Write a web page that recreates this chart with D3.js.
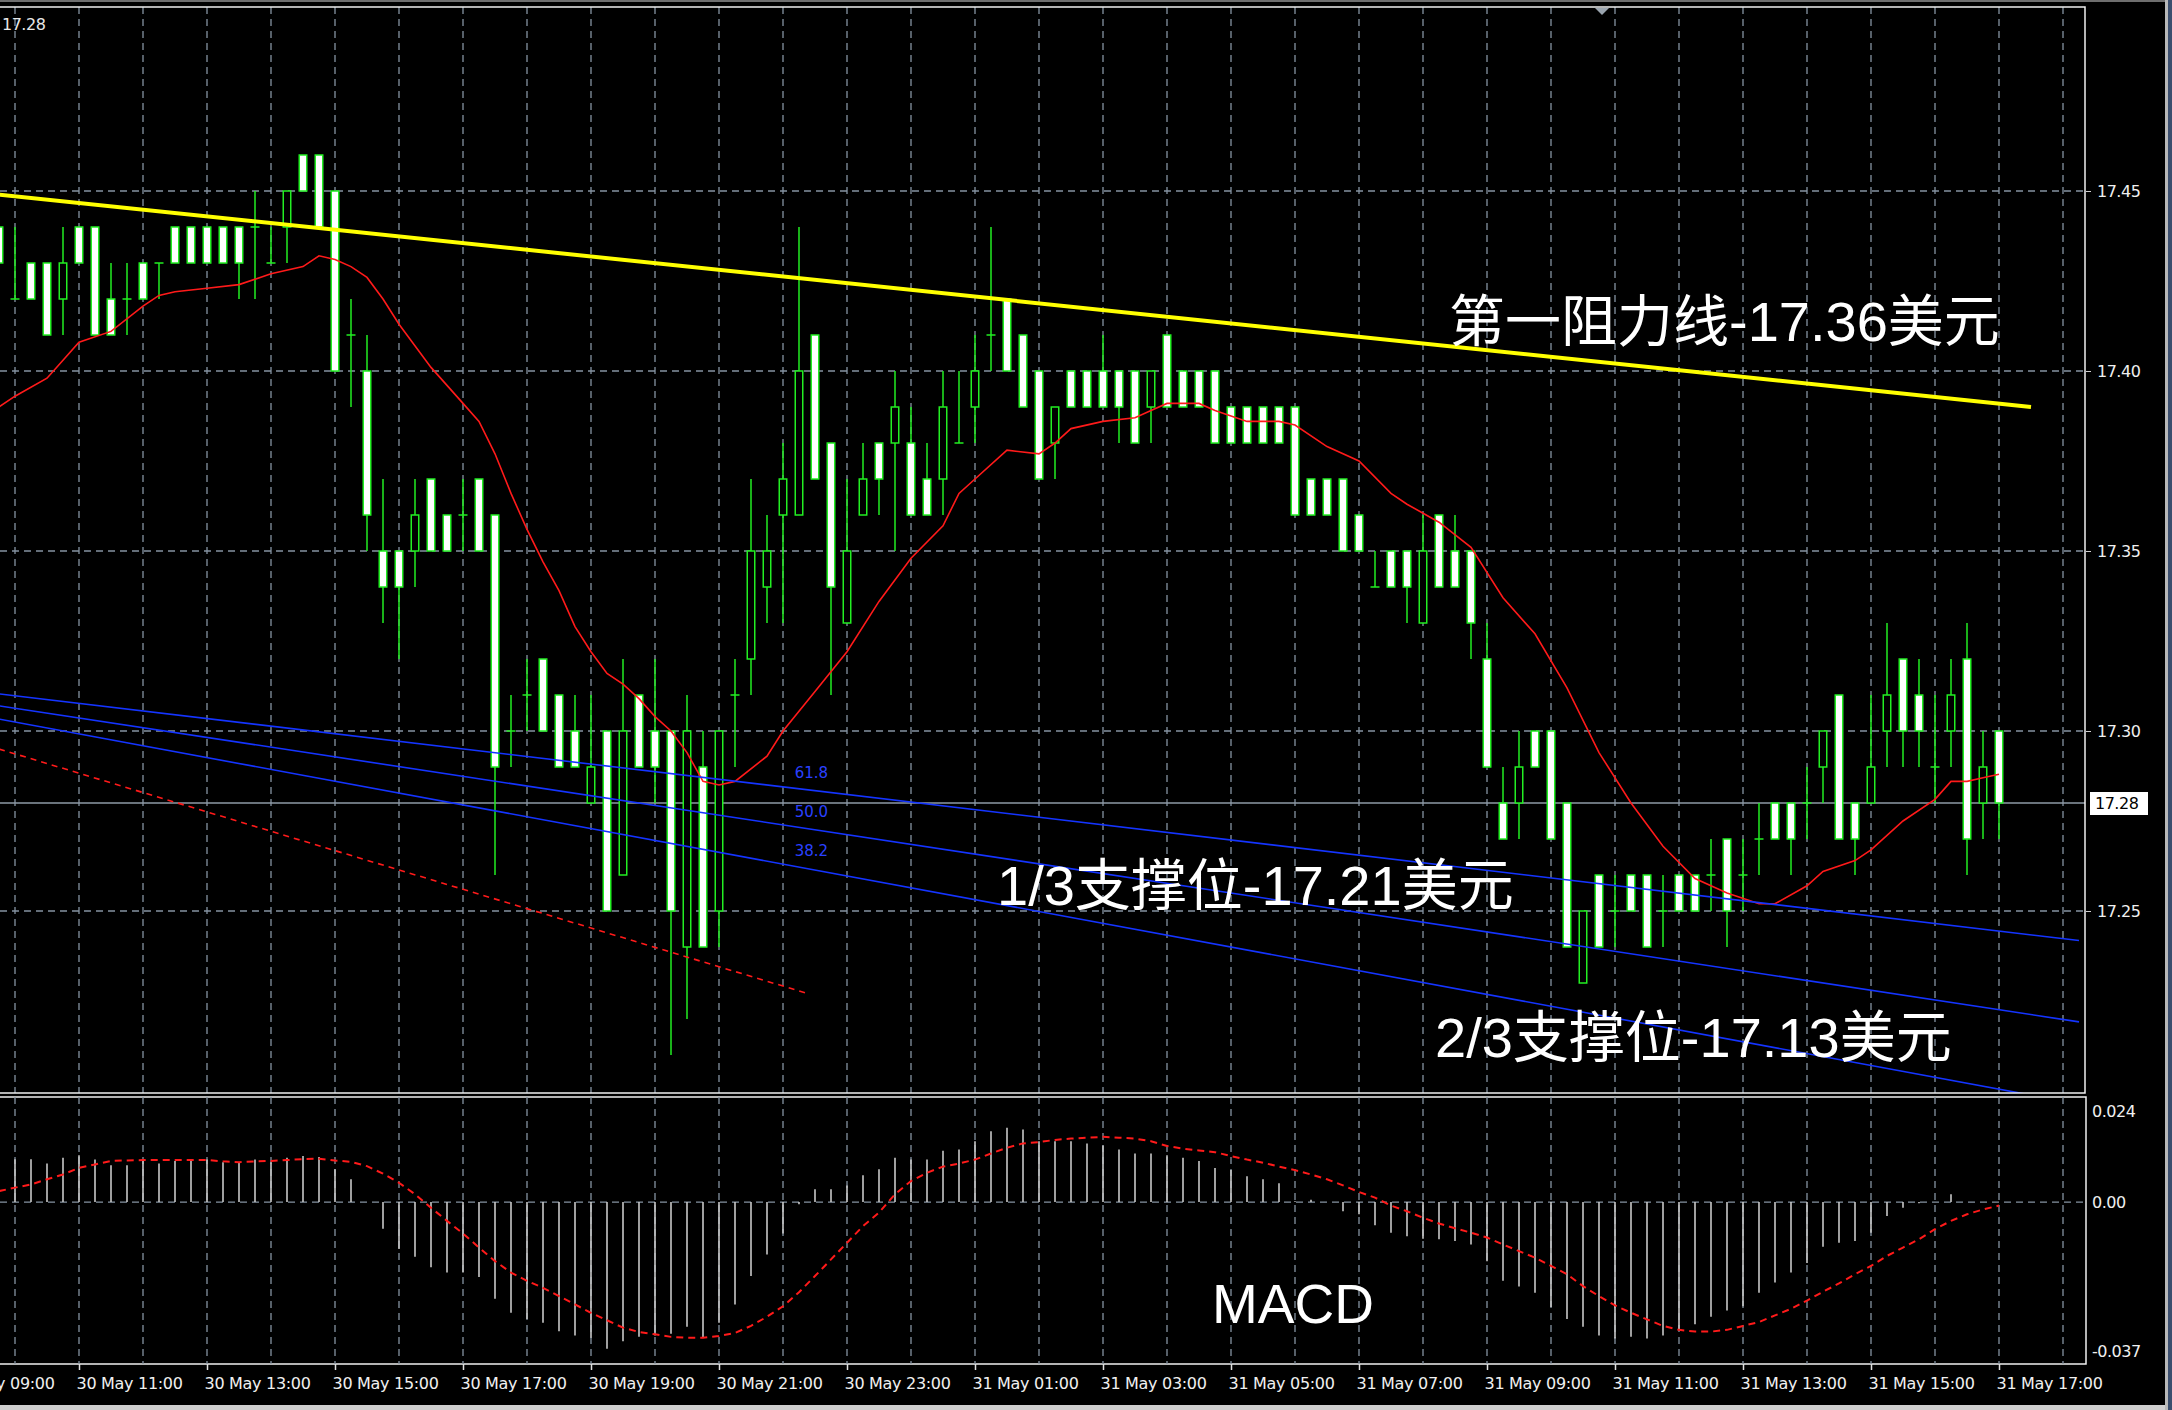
<!DOCTYPE html>
<html>
<head>
<meta charset="utf-8">
<script src="https://cdn.jsdelivr.net/npm/d3@7"></script>
<style>
  html, body { margin: 0; padding: 0; background: #000; overflow: hidden; }
  svg { display: block; }
</style>
</head>
<body>
<svg id="chart" width="2172" height="1410"></svg>
<script>
// ---- M15 bars, 30 May 09:45 -> 31 May 17:00 ----
const day30Times = ["09:45","10:00","10:15","10:30","10:45","11:00","11:15","11:30","11:45",
  "12:00","12:15","12:30","12:45","13:00","13:15","13:30","13:45","14:00","14:15","14:30","14:45",
  "15:00","15:15","15:30","15:45","16:00","16:15","16:30","16:45","17:00","17:15","17:30","17:45",
  "18:00","18:15","18:30","18:45","19:00","19:15","19:30","19:45","20:00","20:15","20:30","20:45",
  "21:00","21:15","21:30","21:45","22:00","22:15","22:30","22:45","23:00","23:15","23:30","23:45"];
const day31Times = ["00:00","00:15","00:30","00:45","01:00","01:15","01:30","01:45",
  "02:00","02:15","02:30","02:45","03:00","03:15","03:30","03:45","04:00","04:15","04:30","04:45",
  "05:00","05:15","05:30","05:45","06:00","06:15","06:30","06:45","07:00","07:15","07:30","07:45",
  "08:00","08:15","08:30","08:45","09:00","09:15","09:30","09:45","10:00","10:15","10:30","10:45",
  "11:00","11:15","11:30","11:45","12:00","12:15","12:30","12:45","13:00","13:15","13:30","13:45",
  "14:00","14:15","14:30","14:45","15:00","15:15","15:30","15:45","16:00","16:15","16:30","16:45","17:00"];

const openPrices = [
  17.44,17.42,17.43,17.43,17.42,17.44,17.44,17.42,17.42,17.43,
  17.43,17.44,17.44,17.44,17.44,17.44,17.44,17.43,17.44,17.46,
  17.46,17.45,17.41,17.40,17.35,17.35,17.35,17.37,17.36,17.36,
  17.37,17.36,17.30,17.31,17.32,17.31,17.30,17.28,17.30,17.26,
  17.31,17.30,17.30,17.24,17.29,17.25,17.31,17.32,17.34,17.36,
  17.36,17.41,17.38,17.33,17.36,17.38,17.38,17.38,17.37,17.37,
  17.38,17.39,17.41,17.42,17.41,17.40,17.38,17.40,17.40,17.40,
  17.40,17.40,17.39,17.41,17.40,17.40,17.40,17.39,17.39,17.39,
  17.39,17.39,17.37,17.37,17.37,17.36,17.34,17.35,17.35,17.33,
  17.36,17.35,17.35,17.32,17.28,17.28,17.30,17.30,17.28,17.23,
  17.26,17.25,17.26,17.26,17.25,17.26,17.26,17.26,17.27,17.26,
  17.27,17.28,17.28,17.28,17.29,17.31,17.28,17.28,17.30,17.32,
  17.31,17.29,17.30,17.32,17.28,17.30];
const highPrices = [
  17.44,17.44,17.43,17.43,17.44,17.44,17.44,17.43,17.43,17.43,
  17.43,17.44,17.44,17.44,17.44,17.44,17.45,17.44,17.45,17.46,
  17.46,17.45,17.42,17.41,17.37,17.35,17.37,17.37,17.36,17.37,
  17.37,17.36,17.31,17.32,17.32,17.31,17.31,17.31,17.30,17.32,
  17.31,17.32,17.30,17.31,17.30,17.30,17.32,17.37,17.36,17.38,
  17.44,17.41,17.38,17.37,17.38,17.38,17.40,17.39,17.38,17.40,
  17.40,17.41,17.44,17.42,17.41,17.40,17.39,17.40,17.40,17.41,
  17.40,17.40,17.40,17.41,17.40,17.40,17.40,17.39,17.39,17.39,
  17.39,17.39,17.37,17.37,17.37,17.36,17.35,17.35,17.35,17.36,
  17.36,17.36,17.35,17.33,17.29,17.30,17.30,17.30,17.28,17.25,
  17.26,17.26,17.26,17.26,17.26,17.26,17.26,17.27,17.27,17.27,
  17.28,17.28,17.28,17.29,17.30,17.31,17.28,17.31,17.33,17.32,
  17.32,17.31,17.32,17.33,17.30,17.30];
const lowPrices = [
  17.42,17.42,17.42,17.41,17.41,17.43,17.41,17.41,17.41,17.42,
  17.42,17.43,17.43,17.43,17.43,17.42,17.42,17.43,17.43,17.45,
  17.44,17.40,17.39,17.35,17.33,17.32,17.34,17.35,17.35,17.35,
  17.35,17.26,17.29,17.30,17.30,17.29,17.29,17.28,17.25,17.26,
  17.29,17.28,17.21,17.22,17.24,17.24,17.29,17.31,17.33,17.33,
  17.36,17.37,17.31,17.33,17.36,17.36,17.35,17.36,17.36,17.36,
  17.38,17.38,17.40,17.40,17.39,17.37,17.37,17.39,17.39,17.39,
  17.38,17.38,17.38,17.39,17.39,17.39,17.38,17.38,17.38,17.38,
  17.38,17.36,17.36,17.36,17.35,17.35,17.34,17.34,17.33,17.33,
  17.34,17.34,17.32,17.29,17.27,17.27,17.29,17.27,17.24,17.23,
  17.24,17.24,17.25,17.24,17.24,17.25,17.25,17.25,17.24,17.25,
  17.26,17.27,17.26,17.27,17.28,17.27,17.26,17.28,17.29,17.29,
  17.29,17.28,17.29,17.26,17.27,17.27];
const closePrices = [
  17.43,17.42,17.42,17.41,17.43,17.43,17.41,17.41,17.42,17.42,
  17.43,17.43,17.43,17.43,17.43,17.43,17.44,17.43,17.45,17.45,
  17.44,17.40,17.41,17.36,17.34,17.34,17.36,17.35,17.35,17.36,
  17.35,17.29,17.30,17.31,17.30,17.29,17.29,17.29,17.25,17.30,
  17.29,17.29,17.25,17.30,17.24,17.30,17.31,17.35,17.35,17.37,
  17.40,17.37,17.34,17.35,17.37,17.37,17.39,17.36,17.36,17.39,
  17.38,17.40,17.41,17.40,17.39,17.37,17.39,17.39,17.39,17.39,
  17.39,17.38,17.40,17.39,17.39,17.39,17.38,17.38,17.38,17.38,
  17.38,17.36,17.36,17.36,17.35,17.35,17.34,17.34,17.34,17.35,
  17.34,17.34,17.33,17.29,17.27,17.29,17.29,17.27,17.24,17.25,
  17.24,17.25,17.25,17.24,17.25,17.25,17.25,17.26,17.25,17.26,
  17.27,17.27,17.27,17.28,17.30,17.27,17.27,17.29,17.31,17.30,
  17.30,17.29,17.31,17.27,17.29,17.28];

// ---- moving average (red) ----
const maTimes = ["30 May 09:45","30 May 10:00","30 May 10:30","30 May 10:45","30 May 11:00","30 May 11:30",
  "30 May 12:00","30 May 12:15","30 May 12:30","30 May 13:00","30 May 13:30","30 May 14:00","30 May 14:30",
  "30 May 14:45","30 May 15:00","30 May 15:15","30 May 15:30","30 May 15:45","30 May 16:00","30 May 16:30",
  "30 May 17:00","30 May 17:15","30 May 17:30","30 May 17:45","30 May 18:00","30 May 18:15","30 May 18:30",
  "30 May 18:45","30 May 19:00","30 May 19:15","30 May 19:30","30 May 19:45","30 May 20:00","30 May 20:15",
  "30 May 20:30","30 May 20:45","30 May 21:00","30 May 21:15","30 May 21:45","30 May 22:00","30 May 22:30",
  "30 May 23:00","30 May 23:30","31 May 00:00","31 May 00:30","31 May 00:45","31 May 01:00","31 May 01:30",
  "31 May 02:00","31 May 02:15","31 May 02:30","31 May 03:00","31 May 03:30","31 May 03:45","31 May 04:00",
  "31 May 04:30","31 May 04:45","31 May 05:15","31 May 05:45","31 May 06:00","31 May 06:30","31 May 07:00",
  "31 May 07:30","31 May 07:45","31 May 08:15","31 May 08:45","31 May 09:15","31 May 09:45","31 May 10:15",
  "31 May 10:45","31 May 11:15","31 May 11:45","31 May 12:15","31 May 12:45","31 May 13:15","31 May 13:30",
  "31 May 14:00","31 May 14:15","31 May 14:45","31 May 15:00","31 May 15:30","31 May 16:00","31 May 16:15",
  "31 May 16:30","31 May 16:45","31 May 17:00"];
const maValues = [17.390,17.393,17.398,17.403,17.408,17.411,
  17.418,17.421,17.422,17.423,17.424,17.427,17.429,
  17.432,17.431,17.429,17.426,17.420,17.413,17.401,
  17.391,17.386,17.377,17.366,17.356,17.347,17.339,
  17.329,17.322,17.316,17.313,17.309,17.304,17.300,
  17.294,17.286,17.285,17.286,17.293,17.300,17.311,
  17.322,17.336,17.348,17.357,17.366,17.370,17.378,
  17.377,17.380,17.384,17.386,17.387,17.389,17.391,
  17.391,17.389,17.386,17.386,17.385,17.379,17.375,
  17.366,17.363,17.358,17.351,17.337,17.327,17.312,
  17.294,17.280,17.268,17.259,17.255,17.252,17.252,
  17.257,17.261,17.264,17.267,17.275,17.281,17.286,
  17.286,17.287,17.288];

// ---- MACD histogram and signal, one value per bar ----
const macdHist = [
  0.0086,0.0098,0.0098,0.0088,0.0101,0.0107,0.0097,0.0084,0.0084,0.0096,
  0.0088,0.0094,0.0094,0.0097,0.0091,0.0090,0.0097,0.0091,0.0101,0.0105,
  0.0103,0.0075,0.0052,0.0000,-0.0061,-0.0107,-0.0125,-0.0149,-0.0161,-0.0161,
  -0.0171,-0.0221,-0.0253,-0.0267,-0.0276,-0.0295,-0.0305,-0.0310,-0.0335,-0.0318,
  -0.0308,-0.0305,-0.0301,-0.0285,-0.0310,-0.0276,-0.0234,-0.0169,-0.0120,-0.0072,
  -0.0005,0.0029,0.0029,0.0038,0.0061,0.0075,0.0101,0.0097,0.0097,0.0117,
  0.0120,0.0139,0.0162,0.0170,0.0166,0.0139,0.0139,0.0139,0.0134,0.0129,
  0.0120,0.0111,0.0111,0.0107,0.0101,0.0094,0.0078,0.0073,0.0059,0.0052,
  0.0043,0.0002,0.0005,0.0000,-0.0021,-0.0028,-0.0053,-0.0070,-0.0078,-0.0084,
  -0.0085,-0.0089,-0.0097,-0.0135,-0.0180,-0.0193,-0.0207,-0.0240,-0.0267,-0.0285,
  -0.0305,-0.0312,-0.0308,-0.0312,-0.0305,-0.0292,-0.0279,-0.0262,-0.0248,-0.0238,
  -0.0207,-0.0184,-0.0161,-0.0139,-0.0102,-0.0093,-0.0089,-0.0070,-0.0032,-0.0013,
  -0.0003,0.0000,0.0018,0.0000,0.0000,0.0000];
const macdSignal = [
  0.0025,0.0033,0.0040,0.0052,0.0063,0.0078,0.0086,0.0094,0.0095,0.0096,
  0.0096,0.0096,0.0096,0.0096,0.0093,0.0091,0.0093,0.0094,0.0096,0.0098,
  0.0099,0.0095,0.0092,0.0082,0.0065,0.0044,0.0018,-0.0013,-0.0043,-0.0072,
  -0.0104,-0.0135,-0.0161,-0.0180,-0.0196,-0.0215,-0.0234,-0.0253,-0.0270,-0.0287,
  -0.0297,-0.0302,-0.0308,-0.0310,-0.0310,-0.0306,-0.0299,-0.0283,-0.0262,-0.0238,
  -0.0206,-0.0169,-0.0131,-0.0093,-0.0055,-0.0024,0.0018,0.0048,0.0067,0.0081,
  0.0088,0.0097,0.0111,0.0124,0.0134,0.0137,0.0142,0.0145,0.0147,0.0149,
  0.0147,0.0145,0.0139,0.0128,0.0122,0.0118,0.0114,0.0105,0.0097,0.0090,
  0.0081,0.0073,0.0063,0.0052,0.0038,0.0023,0.0010,-0.0008,-0.0021,-0.0036,
  -0.0049,-0.0060,-0.0070,-0.0081,-0.0097,-0.0112,-0.0127,-0.0146,-0.0165,-0.0192,
  -0.0215,-0.0236,-0.0253,-0.0268,-0.0283,-0.0292,-0.0296,-0.0296,-0.0292,-0.0283,
  -0.0274,-0.0259,-0.0244,-0.0225,-0.0205,-0.0186,-0.0165,-0.0146,-0.0123,-0.0104,
  -0.0085,-0.0062,-0.0043,-0.0028,-0.0017,-0.0008];

// ---- axis ticks ----
const priceTicks = [17.45, 17.40, 17.35, 17.30, 17.25];
const lastPrice = 17.28;
const macdTicks = [0.024, 0, -0.037];
const macdTickLabels = ["0.024", "0.00", "-0.037"];
const timeTickLabels = ["30 May 09:00","30 May 11:00","30 May 13:00","30 May 15:00","30 May 17:00",
  "30 May 19:00","30 May 21:00","30 May 23:00","31 May 01:00","31 May 03:00","31 May 05:00",
  "31 May 07:00","31 May 09:00","31 May 11:00","31 May 13:00","31 May 15:00","31 May 17:00"];

// ---- drawn objects: resistance line, Fibonacci fan and its base line ----
const resistanceTimes = ["30 May 09:45", "31 May 17:30"];
const resistancePrices = [17.449, 17.390];
const fanTimes = ["30 May 09:45", "31 May 18:15"];
const fanLevels = ["61.8", "50.0", "38.2"];
const fanStartPrices = [17.3103, 17.3070, 17.3033];
const fanEndPrices = [17.2418, 17.2192, 17.1964];
const fanBaseTimes = ["30 May 09:45", "30 May 22:24"];
const fanBasePrices = [17.295, 17.227];

const annotations = ["第一阻力线-17.36美元", "1/3支撑位-17.21美元", "2/3支撑位-17.13美元"];

// ---------------------------------------------------------------
const parseTime = d3.utcParse("%d %b %H:%M");
const barTimes = day30Times.map(t => parseTime("30 May " + t))
  .concat(day31Times.map(t => parseTime("31 May " + t)));
const bars = barTimes.map((t, i) => ({
  t, o: openPrices[i], h: highPrices[i], l: lowPrices[i], c: closePrices[i],
  hist: macdHist[i], sig: macdSignal[i]
}));

const W = 2172, H = 1410;
const MAIN = { left: 0, right: 2085, top: 7, bottom: 1093 };
const SUB = { left: 0, right: 2086, top: 1097, bottom: 1364 };

const x = d3.scaleUtc()
  .domain([parseTime("30 May 11:00"), parseTime("31 May 17:00")])
  .range([79, 1999]);
const yP = d3.scaleLinear().domain([17.25, 17.45]).range([911, 191]);
const yM = d3.scaleLinear().domain([-0.037, 0.024]).range([SUB.bottom, SUB.top]);

const LIME = "#22ee22";
const GRID = "#8593a1";
const AXIS_FONT = "'DejaVu Sans', sans-serif";
const BIG_FONT = "'Liberation Sans', 'Noto Sans CJK SC', sans-serif";

const svg = d3.select("#chart");
svg.append("rect").attr("width", W).attr("height", H).attr("fill", "#000");

const defs = svg.append("defs");
defs.append("clipPath").attr("id", "clipMain").append("rect")
  .attr("x", MAIN.left).attr("y", MAIN.top)
  .attr("width", MAIN.right - MAIN.left).attr("height", MAIN.bottom - MAIN.top);
defs.append("clipPath").attr("id", "clipSub").append("rect")
  .attr("x", SUB.left).attr("y", SUB.top)
  .attr("width", SUB.right - SUB.left).attr("height", SUB.bottom - SUB.top);

// hourly vertical grid positions
const hourLines = d3.utcHour.range(parseTime("30 May 09:00"), parseTime("31 May 19:00"))
  .map(d => x(d)).filter(v => v >= 0 && v < MAIN.right);

// ================= main window =================
const main = svg.append("g").attr("clip-path", "url(#clipMain)");

const gridMain = main.append("g")
  .attr("stroke", GRID).attr("stroke-width", 1.3).attr("stroke-dasharray", "7,5");
gridMain.selectAll("line.v").data(hourLines).join("line")
  .attr("x1", d => d).attr("x2", d => d)
  .attr("y1", MAIN.top).attr("y2", MAIN.bottom);
gridMain.selectAll("line.h").data(priceTicks).join("line")
  .attr("x1", MAIN.left).attr("x2", MAIN.right)
  .attr("y1", d => yP(d)).attr("y2", d => yP(d));

// last price line
main.append("line")
  .attr("x1", MAIN.left).attr("x2", MAIN.right)
  .attr("y1", yP(lastPrice)).attr("y2", yP(lastPrice))
  .attr("stroke", "#8e9aa6").attr("stroke-width", 1.3);

// candles
const cg = main.append("g");
cg.selectAll("line.wick").data(bars).join("line")
  .attr("x1", d => x(d.t)).attr("x2", d => x(d.t))
  .attr("y1", d => yP(d.h)).attr("y2", d => yP(d.l))
  .attr("stroke", LIME).attr("stroke-width", 1.5);
cg.selectAll("rect.body").data(bars.filter(d => d.o !== d.c)).join("rect")
  .attr("x", d => x(d.t) - 3.75).attr("width", 7.5)
  .attr("y", d => yP(Math.max(d.o, d.c)))
  .attr("height", d => Math.abs(yP(d.o) - yP(d.c)))
  .attr("fill", d => d.c < d.o ? "#ffffff" : "#000000")
  .attr("stroke", LIME).attr("stroke-width", 1.5);
cg.selectAll("line.doji").data(bars.filter(d => d.o === d.c)).join("line")
  .attr("x1", d => x(d.t) - 4.5).attr("x2", d => x(d.t) + 4.5)
  .attr("y1", d => yP(d.o)).attr("y2", d => yP(d.o))
  .attr("stroke", LIME).attr("stroke-width", 1.5);

// moving average
const maPts = maTimes.map((t, i) => [x(parseTime(t)), yP(maValues[i])]);
main.append("path").attr("d", d3.line()(maPts))
  .attr("fill", "none").attr("stroke", "#ff1a1a").attr("stroke-width", 1.6);

// Fibonacci fan
const fanX0 = x(parseTime(fanTimes[0])), fanX1 = x(parseTime(fanTimes[1]));
const fanG = main.append("g");
fanLevels.forEach((lvl, i) => {
  fanG.append("line")
    .attr("x1", fanX0).attr("y1", yP(fanStartPrices[i]))
    .attr("x2", fanX1).attr("y2", yP(fanEndPrices[i]))
    .attr("stroke", "#1434ff").attr("stroke-width", 1.6);
});
main.append("line")
  .attr("x1", x(parseTime(fanBaseTimes[0]))).attr("y1", yP(fanBasePrices[0]))
  .attr("x2", x(parseTime(fanBaseTimes[1]))).attr("y2", yP(fanBasePrices[1]))
  .attr("stroke", "#ff1a1a").attr("stroke-width", 1.6).attr("stroke-dasharray", "6,5");

// fan level labels just above each ray
const labelX = x(parseTime("30 May 22:11"));
fanLevels.forEach((lvl, i) => {
  const f = (labelX - fanX0) / (fanX1 - fanX0);
  const yy = yP(fanStartPrices[i]) + f * (yP(fanEndPrices[i]) - yP(fanStartPrices[i]));
  main.append("text").attr("x", labelX).attr("y", yy - 10)
    .attr("fill", "#2a40ff").attr("font-family", AXIS_FONT).attr("font-size", 15)
    .text(lvl);
});

// resistance trend line
main.append("line")
  .attr("x1", x(parseTime(resistanceTimes[0]))).attr("y1", yP(resistancePrices[0]))
  .attr("x2", x(parseTime(resistanceTimes[1]))).attr("y2", yP(resistancePrices[1]))
  .attr("stroke", "#ffff00").attr("stroke-width", 4);

// top-left price readout
svg.append("text").attr("x", 2).attr("y", 30)
  .attr("fill", "#e8e8e8").attr("font-family", AXIS_FONT).attr("font-size", 16)
  .attr("letter-spacing", -0.5).text(lastPrice.toFixed(2));

// shift marker
svg.append("path").attr("d", "M1595,8 L1609,8 L1602,15 Z").attr("fill", "#9aa4ae");

// annotations
const annPos = [[1449, 341], [997, 905], [1435, 1057]];
annotations.forEach((s, i) => {
  svg.append("text").attr("x", annPos[i][0]).attr("y", annPos[i][1])
    .attr("fill", "#ffffff").attr("font-family", BIG_FONT).attr("font-size", 56)
    .text(s);
});

// main borders
const border = svg.append("g").attr("stroke", "#f0f0f0").attr("stroke-width", 1.5).attr("fill", "none");
border.append("path").attr("d", `M0,${MAIN.top} H${MAIN.right} V${MAIN.bottom} H0`);

// price axis
const pAxis = svg.append("g").attr("transform", `translate(${MAIN.right + 1},0)`)
  .call(d3.axisRight(yP).tickValues(priceTicks).tickFormat(d3.format(".2f")).tickSize(5).tickPadding(6));
pAxis.select(".domain").remove();
pAxis.selectAll("line").attr("stroke", "#d0d0d0");
pAxis.selectAll("text").attr("fill", "#f0f0f0").attr("font-family", AXIS_FONT).attr("font-size", 16)
  .attr("letter-spacing", -0.5);

// last price box
svg.append("rect").attr("x", 2090).attr("y", yP(lastPrice) - 11).attr("width", 58).attr("height", 23)
  .attr("fill", "#ffffff");
svg.append("text").attr("x", 2095).attr("y", yP(lastPrice)).attr("dy", "0.35em")
  .attr("fill", "#000").attr("font-family", AXIS_FONT).attr("font-size", 16).attr("letter-spacing", -0.5)
  .text(lastPrice.toFixed(2));

// ================= MACD window =================
const sub = svg.append("g").attr("clip-path", "url(#clipSub)");
const gridSub = sub.append("g")
  .attr("stroke", GRID).attr("stroke-width", 1.3).attr("stroke-dasharray", "7,5");
gridSub.selectAll("line.v").data(hourLines).join("line")
  .attr("x1", d => d).attr("x2", d => d)
  .attr("y1", SUB.top).attr("y2", SUB.bottom);
gridSub.append("line").attr("x1", SUB.left).attr("x2", SUB.right)
  .attr("y1", yM(0)).attr("y2", yM(0));

sub.selectAll("line.hist").data(bars).join("line")
  .attr("x1", d => x(d.t)).attr("x2", d => x(d.t))
  .attr("y1", yM(0)).attr("y2", d => yM(d.hist))
  .attr("stroke", "#c8c8c8").attr("stroke-width", 1.6);

sub.append("path")
  .attr("d", d3.line().x(d => x(d.t)).y(d => yM(d.sig))(bars))
  .attr("fill", "none").attr("stroke", "#ff1a1a").attr("stroke-width", 2)
  .attr("stroke-dasharray", "7,5");

svg.append("text").attr("x", 1212).attr("y", 1323)
  .attr("fill", "#ffffff").attr("font-family", BIG_FONT).attr("font-size", 55).text("MACD");

border.append("path").attr("d", `M0,${SUB.top} H${SUB.right} V${SUB.bottom} H0`);

const mAxis = svg.append("g").attr("transform", `translate(${SUB.right},0)`)
  .call(d3.axisRight(yM).tickValues(macdTicks).tickFormat((d, i) => macdTickLabels[i]).tickSize(0).tickPadding(6));
mAxis.select(".domain").remove();
mAxis.selectAll("text").attr("fill", "#f0f0f0").attr("font-family", AXIS_FONT).attr("font-size", 16)
  .attr("letter-spacing", -0.5)
  .attr("y", (d, i) => i === 0 ? 14 : (i === macdTicks.length - 1 ? -13 : 0));

// time axis; the first label runs off the left edge as the window scrolls
const tAxis = svg.append("g").attr("transform", `translate(0,${SUB.bottom})`)
  .call(d3.axisBottom(x).tickValues(timeTickLabels.map(parseTime))
    .tickFormat(d3.utcFormat("%d %b %H:%M")).tickSize(6).tickPadding(8));
tAxis.select(".domain").remove();
tAxis.selectAll("line").attr("stroke", "#e0e0e0").attr("stroke-width", 1.5);
tAxis.selectAll("text").attr("fill", "#f0f0f0").attr("font-family", AXIS_FONT).attr("font-size", 16)
  .attr("letter-spacing", -0.3).attr("text-anchor", "start").attr("dx", -3);

// window frame
svg.append("rect").attr("x", 0).attr("y", 0).attr("width", W).attr("height", 2).attr("fill", "#6e6e6e");
svg.append("rect").attr("x", 0).attr("y", 1405).attr("width", 2166).attr("height", 5).attr("fill", "#cfcfcf");
svg.append("rect").attr("x", 2165).attr("y", 0).attr("width", 3).attr("height", H).attr("fill", "#b8b8b8");
svg.append("rect").attr("x", 2168).attr("y", 0).attr("width", 4).attr("height", H).attr("fill", "#3b4e6e");
</script>
</body>
</html>
